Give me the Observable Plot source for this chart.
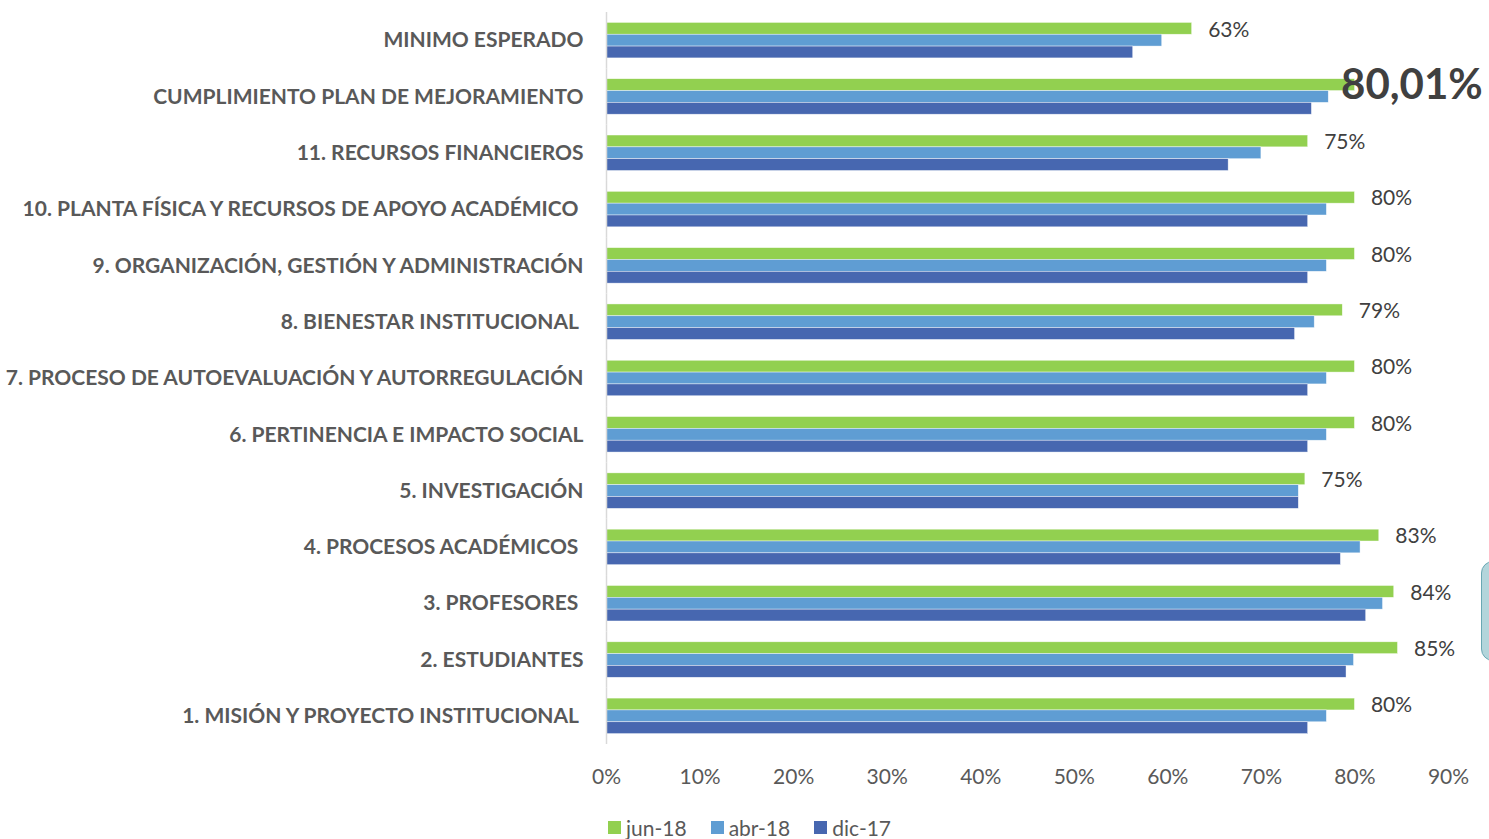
<!DOCTYPE html>
<html>
<head>
<meta charset="utf-8">
<script src="https://cdn.jsdelivr.net/npm/d3@7"></script>
<script src="https://cdn.jsdelivr.net/npm/@observablehq/plot@0.6"></script>
<style>
  html, body { margin: 0; padding: 0; background: #fff; }
  body { width: 1489px; height: 839px; overflow: hidden; position: relative; font-family: Lato, "Open Sans", sans-serif; }
  #legend { position: absolute; left: 608px; top: 815px; display: flex; align-items: center; font-size: 21px; color: #595959; }
  .item { display: flex; align-items: center; margin-right: 24px; }
  .sw { width: 13px; height: 13px; margin-right: 5px; }
  #shape { position: absolute; left: 1481px; top: 561px; width: 40px; height: 100px; border-radius: 12px; background: #b3d5db; border: 1.5px solid #6aa8b4; box-sizing: border-box; }
</style>
</head>
<body>
<div id="chart"></div>
<div id="legend"></div>
<div id="shape"></div>
<script>
const categories = [
  "MINIMO ESPERADO",
  "CUMPLIMIENTO PLAN DE MEJORAMIENTO",
  "11. RECURSOS FINANCIEROS",
  "10. PLANTA FÍSICA Y RECURSOS DE APOYO ACADÉMICO ",
  "9. ORGANIZACIÓN, GESTIÓN Y ADMINISTRACIÓN",
  "8. BIENESTAR INSTITUCIONAL ",
  "7. PROCESO DE AUTOEVALUACIÓN Y AUTORREGULACIÓN",
  "6. PERTINENCIA E IMPACTO SOCIAL",
  "5. INVESTIGACIÓN",
  "4. PROCESOS ACADÉMICOS ",
  "3. PROFESORES ",
  "2. ESTUDIANTES",
  "1. MISIÓN Y PROYECTO INSTITUCIONAL "
];
const series = ["jun-18", "abr-18", "dic-17"];
const colors = ["#92D050", "#5F9DD3", "#4767B0"];
const jun18 = [0.626, 0.8001, 0.750, 0.800, 0.800, 0.787, 0.800, 0.800, 0.747, 0.826, 0.842, 0.846, 0.800];
const abr18 = [0.594, 0.772, 0.700, 0.770, 0.770, 0.757, 0.770, 0.770, 0.740, 0.806, 0.830, 0.799, 0.770];
const dic17 = [0.563, 0.754, 0.665, 0.750, 0.750, 0.736, 0.750, 0.750, 0.740, 0.785, 0.812, 0.791, 0.750];
const highlight = "CUMPLIMIENTO PLAN DE MEJORAMIENTO";
const xTicks = [0, 0.1, 0.2, 0.3, 0.4, 0.5, 0.6, 0.7, 0.8, 0.9];

const valuesBySeries = [jun18, abr18, dic17];
const data = [];
categories.forEach((c, i) => {
  series.forEach((s, j) => data.push({category: c, series: s, value: valuesBySeries[j][i]}));
});
const labelData = data.filter(d => d.series === "jun-18" && d.category !== highlight);
const highlightData = data.filter(d => d.series === "jun-18" && d.category === highlight);

const pct0 = d3.format(".0%");
const pct2 = v => d3.format(".2%")(v).replace(".", ",");

const chart = Plot.plot({
  width: 1489,
  height: 800,
  marginLeft: 606,
  marginRight: 41,
  marginTop: 12,
  marginBottom: 56,
  style: {fontFamily: "Lato, 'Open Sans', sans-serif", background: "#fff"},
  x: {domain: [0, 0.9], axis: null},
  y: {domain: series, paddingInner: 0, paddingOuter: 0.88, round: false, axis: null},
  fy: {domain: categories, padding: 0, round: false, axis: null},
  color: {domain: series, range: colors},
  marks: [
    Plot.barX(data, {x: "value", y: "series", fy: "category", fill: "series", stroke: "#fff", strokeWidth: 0.6, strokeOpacity: 0.7}),
    Plot.ruleX([0], {stroke: "#d9d9d9", strokeWidth: 1.5}),
    Plot.text(labelData, {x: "value", y: "series", fy: "category", text: d => pct0(d.value), textAnchor: "start", dx: 16, dy: 1, fontSize: 21, fill: "#404040"}),
    Plot.text(highlightData, {x: "value", y: "series", fy: "category", text: d => pct2(d.value), textAnchor: "start", dx: -14, dy: 0, fontSize: 42, fontWeight: "bold", fill: "#404040"}),
    Plot.axisFy({anchor: "left", tickSize: 0, tickPadding: 23, fontSize: 21, fontWeight: "bold", fill: "#595959", label: null, tickFormat: d => d.replace(/ $/, "\u00a0")}),
    Plot.axisX({ticks: xTicks, tickSize: 0, tickPadding: 25, fontSize: 21, fill: "#595959", tickFormat: pct0, label: null})
  ]
});
document.getElementById("chart").appendChild(chart);

const legend = document.getElementById("legend");
series.forEach((s, i) => {
  const it = document.createElement("div");
  it.className = "item";
  const sw = document.createElement("div");
  sw.className = "sw";
  sw.style.background = colors[i];
  const t = document.createElement("span");
  t.textContent = s;
  it.appendChild(sw); it.appendChild(t);
  legend.appendChild(it);
});
</script>
</body>
</html>
